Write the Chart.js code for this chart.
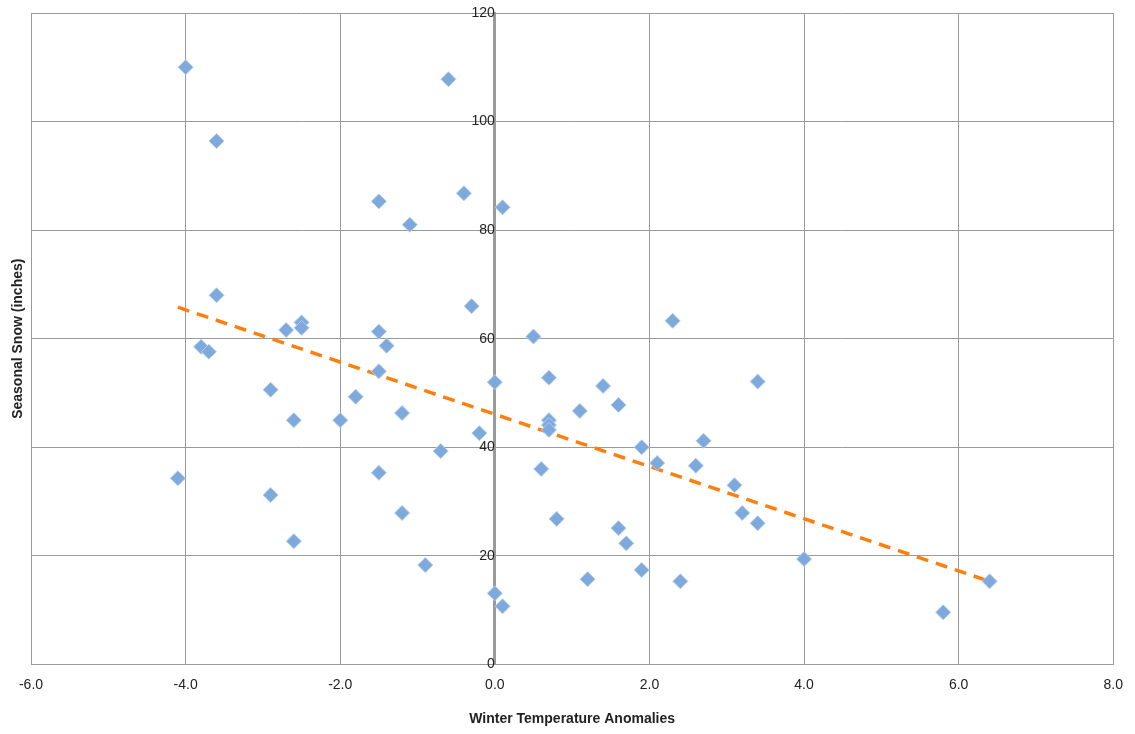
<!DOCTYPE html>
<html>
<head>
<meta charset="utf-8">
<script src="https://cdn.jsdelivr.net/npm/chart.js@4.4.1/dist/chart.umd.min.js"></script>
<style>
  html, body { margin: 0; padding: 0; background: #fff; }
  #wrap { width: 1135px; height: 734px; }
</style>
</head>
<body>
<div id="wrap"><canvas id="grafico"></canvas></div>
<script>
// ================= DATA =================
const anomalias = [-4.0,-3.6,-0.6,-0.4,0.1,-1.5,-1.1,-3.6,-2.5,-2.5,-2.7,-3.8,-3.7,-1.5,-1.4,-0.3,-1.5,-2.9,-1.8,-1.2,-2.6,-2.0,-0.7,-0.2,0.0,0.5,0.7,-4.1,-1.5,-2.9,-1.2,-2.6,-0.9,0.0,0.1,0.7,0.7,0.7,0.6,0.8,1.1,1.4,1.6,1.9,2.1,2.6,2.7,2.3,3.4,3.1,3.2,3.4,1.6,1.7,1.2,1.9,2.4,4.0,5.8,6.4];
const neve = [110,96.4,107.8,86.8,84.2,85.3,81,68,63,62,61.6,58.5,57.6,61.3,58.7,66,54,50.6,49.3,46.3,45,45,39.3,42.6,52,60.4,52.8,34.3,35.3,31.2,27.9,22.7,18.3,13.1,10.7,45,44.1,43.2,36,26.8,46.7,51.3,47.8,40,37.1,36.6,41.2,63.3,52.1,33,27.9,26,25.1,22.3,15.7,17.4,15.3,19.4,9.6,15.3];
const tendenciaX = [-4.1, 6.4];
const tendenciaY = [65.8, 15.3];

const pontos = anomalias.map((x, i) => ({ x, y: neve[i] }));
const linha = tendenciaX.map((x, i) => ({ x, y: tendenciaY[i] }));

// ================= TÍTULO DO EIXO Y =================
const tituloY = {
  id: "tituloY",
  afterDraw(chart) {
    const c = chart.ctx, a = chart.chartArea;
    c.save();
    c.translate(18, (a.top + a.bottom) / 2);
    c.rotate(-Math.PI / 2);
    c.font = "bold 14px 'Liberation Sans', Arial, sans-serif";
    c.fillStyle = "#222";
    c.textAlign = "center";
    c.textBaseline = "middle";
    c.fillText("Seasonal Snow (inches)", 0, 0);
    c.restore();
  }
};

// ================= GRÁFICO =================
new Chart(document.getElementById("grafico"), {
  type: "scatter",
  data: {
    datasets: [
      {
        data: linha,
        showLine: true,
        borderColor: "#ff7f0e",
        borderWidth: 3.5,
        borderDash: [12, 8],
        pointRadius: 0,
        order: 2
      },
      {
        data: pontos,
        pointStyle: "rectRot",
        pointRadius: 7.5,
        backgroundColor: "#7ea9dc",
        borderColor: "#b4cdec",
        borderWidth: 1,
        order: 1
      }
    ]
  },
  options: {
    responsive: true,
    maintainAspectRatio: false,
    animation: false,
    layout: { padding: { left: 31, right: 18, top: 13, bottom: 0 } },
    plugins: { legend: { display: false }, tooltip: { enabled: false } },
    scales: {
      x: {
        min: -6, max: 8,
        ticks: {
          stepSize: 2,
          color: "#222",
          font: { size: 14, family: "'Liberation Sans', Arial, sans-serif" },
          callback: v => v.toFixed(1),
          padding: 12
        },
        grid: { color: "#9a9a9a", drawTicks: false },
        border: { color: "#9a9a9a" },
        title: {
          display: true,
          text: "Winter Temperature Anomalies",
          color: "#222",
          font: { size: 14, weight: "bold", family: "'Liberation Sans', Arial, sans-serif" },
          padding: { top: 6, bottom: 6 }
        }
      },
      y: {
        position: { x: 0 },
        min: 0, max: 120,
        ticks: {
          stepSize: 20,
          color: "#222",
          font: { size: 14, family: "'Liberation Sans', Arial, sans-serif" }
        },
        grid: { color: "#9a9a9a" },
        border: { color: "#9a9a9a", width: 3 }
      }
    }
  },
  plugins: [tituloY]
});
</script>
</body>
</html>
